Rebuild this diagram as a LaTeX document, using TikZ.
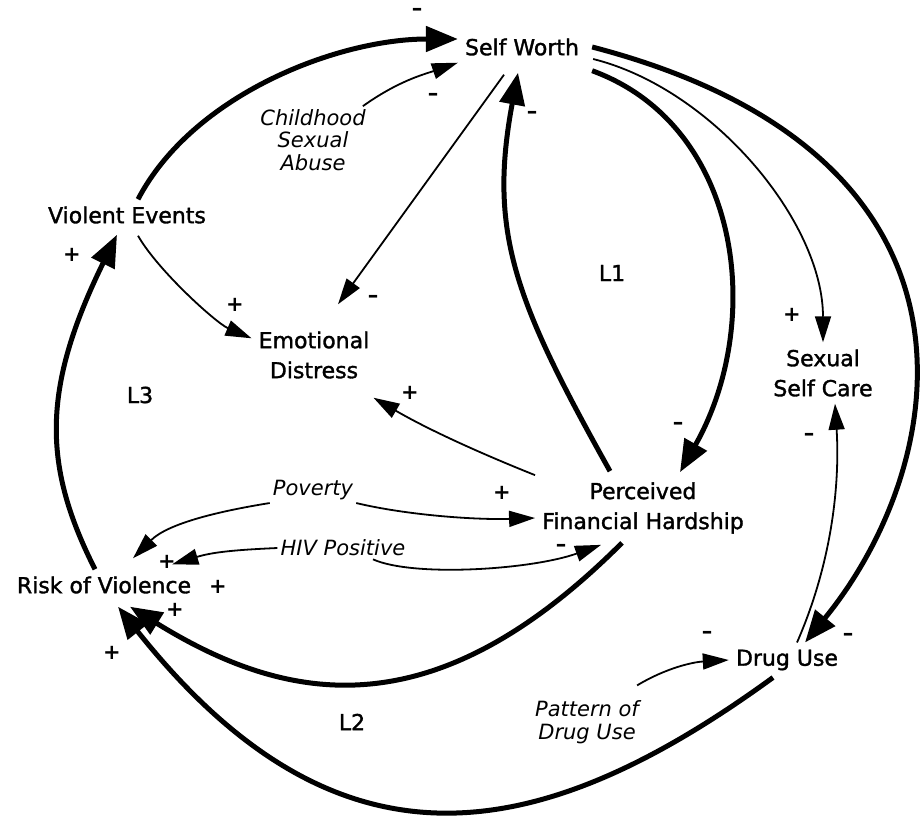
\documentclass[tikz,border=0pt]{standalone}
\usepackage{fontspec}
\setmainfont{DejaVu Sans}
\newfontfamily\varfont[FakeBold=1.5]{DejaVu Sans}
\usetikzlibrary{arrows.meta}

\begin{document}
\begin{tikzpicture}[x=1pt,y=-1pt,
	var/.style={font=\varfont\fontsize{22}{30}\selectfont,align=center,inner sep=7pt},
	ext/.style={font=\fontsize{21}{22.5}\selectfont\itshape,align=center,inner sep=3pt},
	sgn/.style={font=\fontsize{21}{21}\selectfont\bfseries,inner sep=0pt},
	loopname/.style={font=\varfont\fontsize{22}{22}\selectfont},
	link/.style={line width=1.8pt,-{Triangle[length=26pt,width=16pt]}},
	strong/.style={line width=5pt,-{Triangle[length=32pt,width=25pt]}}]
		\useasboundingbox (0,0) rectangle (921,817);
		\node[var] (sw) at (522,47) {Self Worth};
		\node[var] (ve) at (127,215) {Violent Events};
		\node[var] (ed) at (314,355) {Emotional\\Distress};
		\node[var] (pfh) at (643,508) {Perceived\\Financial Hardship};
		\node[var] (ssc) at (823,373) {Sexual\\Self Care};
		\node[var] (rv) at (104,585) {Risk of Violence};
		\node[var] (du) at (787,660) {Drug Use};
		\node[ext] (csa) at (313,140) {Childhood\\Sexual\\Abuse};
		\node[ext] (pov) at (313,490) {Poverty};
		\node[ext] (hiv) at (343,548) {HIV Positive};
		\node[ext] (pdu) at (587,722) {Pattern of\\Drug Use};
		\node[loopname] (l1) at (612,273) {L1};
		\node[loopname] (l2) at (352,722) {L2};
		\node[loopname] (l3) at (140,395) {L3};
		\draw[strong] (ve.55) .. controls +(55,-105) and +(-120,0) .. ([yshift=8pt]sw.west);
		\draw[link] ([xshift=-6pt]csa.north east) .. controls +(35,-25) and +(-35,12) .. (sw.south west);
		\draw[link] ([xshift=-18pt,yshift=-12pt]sw.south) -- ([xshift=24pt,yshift=20pt]ed.north);
		\draw[strong] ([xshift=-33pt,yshift=4pt]pfh.north) .. controls +(-95,-170) and +(-30,160) .. ([xshift=-4pt,yshift=-10pt]sw.south);
		\draw[strong] ([xshift=6pt,yshift=-8pt]sw.south east) .. controls +(150,55) and +(85,-150) .. ([xshift=37pt,yshift=3pt]pfh.north);
		\draw[link] ([xshift=7pt,yshift=-12pt]sw.east) .. controls +(120,30) and +(0,-120) .. (ssc.north);
		\draw[strong] ([xshift=6pt]sw.east) .. controls +(419,109) and +(144,-176) .. ([xshift=18pt]du.north);
		\draw[link] ([xshift=10pt]du.north) .. controls +(35,-80) and +(5,80) .. ([xshift=12pt]ssc.south);
		\draw[strong] ([xshift=-14pt]du.south) .. controls +(-235,171) and +(220,277) .. ([xshift=14pt,yshift=-6pt]rv.south);
		\draw[strong] ([xshift=-21pt,yshift=-2pt]pfh.south) .. controls +(-182,182) and +(166,103) .. ([xshift=26pt,yshift=-6pt]rv.south);
		\draw[link] ([xshift=-5pt,yshift=12pt]pdu.north east) .. controls +(30,-18) and +(-35,2) .. (du.west);
		\draw[link] ([xshift=11pt,yshift=-5pt]ve.south) .. controls +(20,35) and +(-35,-15) .. ([yshift=-14pt]ed.north west);
		\draw[link] (pfh.north west) .. controls +(-55,-22) and +(55,32) .. ([xshift=-3pt,yshift=-12pt]ed.south east);
		\draw[link] (pov.south east) .. controls +(50,12) and +(-60,2) .. ([yshift=-10pt]pfh.west);
		\draw[link] (pov.south west) .. controls +(-50,8) and +(35,-35) .. ([xshift=29pt,yshift=11pt]rv.north);
		\draw[link] (hiv.west) .. controls +(-45,2) and +(40,-12) .. ([xshift=-26pt,yshift=5pt]rv.north east);
		\draw[link] ([xshift=30pt]hiv.south) .. controls +(40,18) and +(-70,25) .. ([xshift=66pt,yshift=-4pt]pfh.south west);
		\draw[strong] ([xshift=-9pt]rv.north) .. controls +(-52,-103) and +(-76,155) .. ([xshift=-10pt,yshift=-4pt]ve.south);
		\node[sgn] (s1) at (417,12) {–};
		\node[sgn] (s2) at (433,97) {–};
		\node[sgn] (s3) at (373,299) {–};
		\node[sgn] (s4) at (532,115) {–};
		\node[sgn] (s5) at (678,426) {–};
		\node[sgn] (s6) at (792,315) {+};
		\node[sgn] (s7) at (809,437) {–};
		\node[sgn] (s8) at (848,637) {–};
		\node[sgn] (s9) at (707,635) {–};
		\node[sgn] (s10) at (72,255) {+};
		\node[sgn] (s11) at (235,305) {+};
		\node[sgn] (s12) at (410,393) {+};
		\node[sgn] (s13) at (502,493) {+};
		\node[sgn] (s14) at (561,548) {–};
		\node[sgn] (s15) at (167,562) {+};
		\node[sgn] (s16) at (218,587) {+};
		\node[sgn] (s17) at (175,610) {+};
		\node[sgn] (s18) at (112,653) {+};
\end{tikzpicture}
\end{document}
